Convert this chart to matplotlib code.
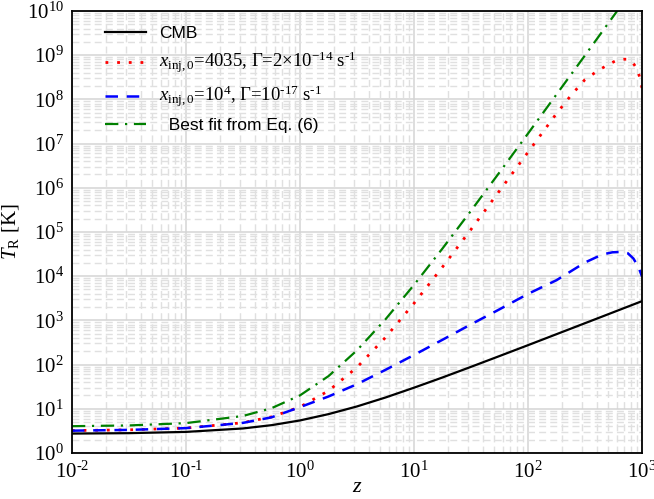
import math
import matplotlib
matplotlib.use("Agg")
import matplotlib.pyplot as plt
from matplotlib.ticker import LogLocator, FuncFormatter, NullFormatter

plt.rcParams['mathtext.fontset'] = 'custom'
plt.rcParams['mathtext.rm'] = 'Liberation Serif'
plt.rcParams['mathtext.it'] = 'Liberation Serif:italic'
plt.rcParams['mathtext.bf'] = 'Liberation Serif:bold'
plt.rcParams['font.family'] = ['Liberation Serif', 'DejaVu Serif']

# ---- data ----
z_cmb = [0.01, 0.0316, 0.1, 0.316, 0.562, 1.0, 1.78, 3.16, 5.62, 10, 17.8, 31.6,
         56.2, 100, 178, 316, 447, 631, 794, 1000]
T_cmb = [2.75, 2.81, 3.0, 3.59, 4.26, 5.45, 7.58, 11.3, 18.0, 30.0, 51.2, 88.9,
         156, 275, 488, 864, 1220, 1722, 2166, 2728]

z_red = [0.01, 0.0316, 0.1, 0.316, 0.562, 1.0, 1.78, 3.16, 5.62, 10, 17.8, 31.6,
         56.2, 100, 178, 238, 316, 417, 500, 583, 650, 700, 750, 828, 916, 967, 1000]
T_red = [3.22, 3.34, 3.66, 4.84, 6.56, 11.0, 25.5, 86.5, 411, 2430, 1.62e4, 1.14e5,
         8.5e5, 6.4e6, 4.8e7, 1.23e8, 2.8e8, 4.6e8, 6.0e8, 7.4e8, 7.9e8, 8.1e8,
         8.1e8, 6.9e8, 4.6e8, 2.75e8, 1.82e8]

z_blue = [0.01, 0.0316, 0.1, 0.316, 0.562, 1.0, 1.78, 3.16, 5.62, 10, 17.8, 31.6,
          56.2, 100, 178, 316, 447, 550, 664, 750, 840, 929, 1000]
T_blue = [3.2, 3.33, 3.65, 4.8, 6.4, 10.9, 19.0, 36.0, 76, 165, 365, 813,
          1780, 3980, 8130, 2.04e4, 3.09e4, 3.47e4, 3.55e4, 3.31e4, 2.51e4, 1.62e4, 9.8e3]

z_fit = [0.01, 0.0316, 0.1, 0.316, 0.562, 1.0, 1.78, 3.16, 5.62, 10, 17.8, 31.6,
         56.2, 100, 178, 316, 447, 631]
T_fit = [4.04, 4.20, 4.74, 6.88, 10.3, 20.1, 54.9, 210, 1055, 6355, 4.25e4, 3.02e5,
         2.23e6, 1.69e7, 1.30e8, 9.9e8, 3.4e9, 1.16e10]

HY = '\u2010'
labels = ['CMB',
          r'$x_{\rm inj,0}$=4035, Γ=2×10$^{-14}$ s$^{' + HY + '1}$',
          r'$x_{\rm inj,0}$=10$^{4}$, Γ=10$^{' + HY + '17}$ s$^{' + HY + '1}$',
          '  Best fit from Eq. (6)']

fig = plt.figure(figsize=(6.54, 4.99), dpi=100)
ax = fig.add_axes([0.110, 0.0922, 0.8717, 0.8858])

ax.plot(z_cmb, T_cmb, color='black', lw=1.6, ls='-', label=labels[0])
ax.plot(z_red, T_red, color='red', lw=2.0, ls=(0, (1, 3.2)), label=labels[1])
ax.plot(z_blue, T_blue, color='blue', lw=1.8, ls=(0, (5, 3.5)), label=labels[2])
ax.plot(z_fit, T_fit, color='green', lw=1.6, ls=(0, (6, 3, 1, 3)), label=labels[3])

ax.set_xscale('log')
ax.set_yscale('log')
ax.set_xlim(1e-2, 1e3)
ax.set_ylim(1e0, 1e10)

ax.xaxis.set_major_locator(LogLocator(base=10, numticks=20))
ax.yaxis.set_major_locator(LogLocator(base=10, numticks=20))
ax.xaxis.set_minor_locator(LogLocator(base=10, subs=range(2, 10), numticks=100))
ax.yaxis.set_minor_locator(LogLocator(base=10, subs=range(2, 10), numticks=100))
ax.xaxis.set_minor_formatter(NullFormatter())
ax.yaxis.set_minor_formatter(NullFormatter())


def fmt(v, pos):
    e = int(round(math.log10(v)))
    s = str(e).replace('-', HY)
    return r'$10^{' + s + '}$'


ax.xaxis.set_major_formatter(FuncFormatter(fmt))
ax.yaxis.set_major_formatter(FuncFormatter(fmt))

ax.tick_params(which='both', length=0, labelsize=15)
ax.tick_params(axis='x', pad=6)
ax.tick_params(axis='y', pad=6)

ax.grid(True, which='major', color='#d4d4d4', lw=1.1, ls='-')
ax.grid(True, which='minor', color='#e0e0e0', lw=1.0, ls=(0, (5, 3)))
ax.set_axisbelow(True)
for sp in ax.spines.values():
    sp.set_linewidth(1.3)

ax.set_xlabel(r'$z$', fontsize=16, labelpad=-3)
ax.set_ylabel(r'$T_{\rm R}$ [K]', fontsize=15, labelpad=4)

leg = ax.legend(loc='upper left', bbox_to_anchor=(0.037, 0.993), frameon=False,
                fontsize=12.5, handlelength=2.35, handletextpad=0.75,
                labelspacing=0.5, borderaxespad=0.3)
for i, t in enumerate(leg.get_texts()):
    if i in (0, 3):
        t.set_fontfamily(['Liberation Sans', 'DejaVu Sans'])
    else:
        t.set_fontfamily(['Liberation Serif', 'DejaVu Serif'])
        t.set_fontsize(13.5)

fig.savefig('out.png', dpi=100)
